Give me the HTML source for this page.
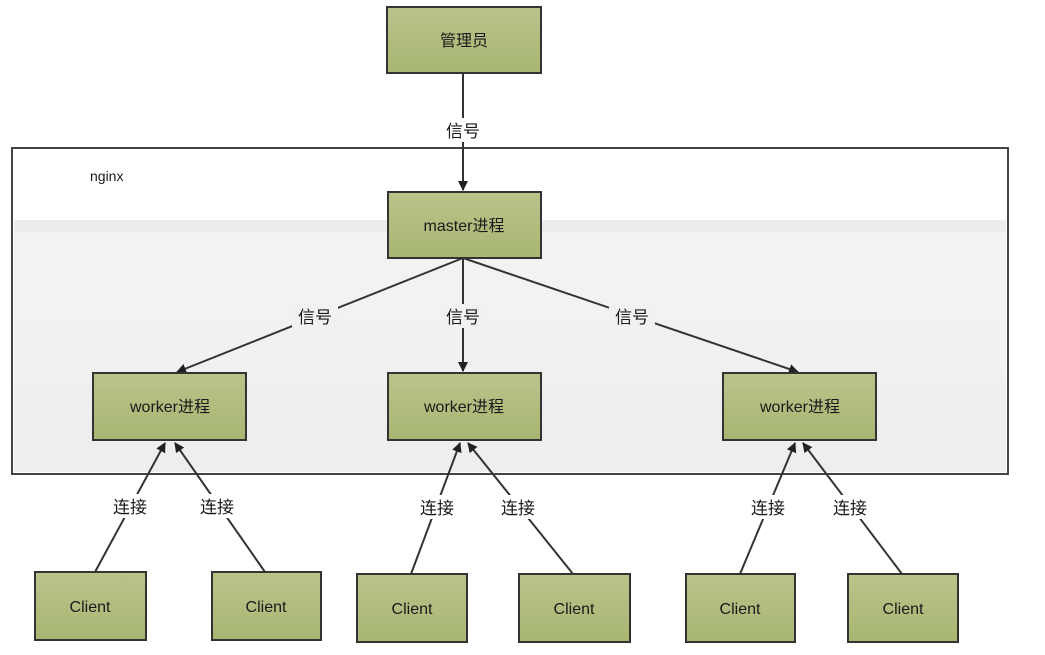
<!DOCTYPE html>
<html><head><meta charset="utf-8"><style>
html,body{margin:0;padding:0;background:#fff;}
svg{display:block;}
text{font-family:"Liberation Sans","Noto Sans CJK SC",sans-serif;fill:#1a1a1a;}
</style></head><body>
<svg width="1045" height="655" viewBox="0 0 1045 655" xmlns="http://www.w3.org/2000/svg">
<defs>
<linearGradient id="g" x1="0" y1="0" x2="0" y2="1">
<stop offset="0" stop-color="#b9c48a"/><stop offset="1" stop-color="#a8b672"/>
</linearGradient>
<linearGradient id="bg" x1="0" y1="0" x2="0" y2="1">
<stop offset="0" stop-color="#f3f3f3"/><stop offset="1" stop-color="#efefef"/>
</linearGradient>
<marker id="a" markerWidth="10" markerHeight="10" refX="9" refY="5" orient="auto" markerUnits="userSpaceOnUse">
<path d="M0,0 L10,5 L0,10 Z" fill="#222"/>
</marker>
</defs>
<rect x="12" y="148" width="996" height="326" fill="#fff" stroke="#444" stroke-width="2"/>
<rect x="14" y="220" width="992" height="252" fill="url(#bg)"/>
<rect x="14" y="220" width="992" height="12" fill="#ececec"/>
<rect x="14" y="385" width="992" height="87" fill="#eeeeee"/>
<text x="90" y="181" font-size="14">nginx</text>

<g stroke="#333" stroke-width="2" fill="none" marker-end="url(#a)">
<line x1="463" y1="73" x2="463" y2="190"/>
<line x1="463" y1="258" x2="177" y2="372"/>
<line x1="463" y1="258" x2="463" y2="371"/>
<line x1="463" y1="258" x2="798" y2="372"/>
<line x1="95" y1="572" x2="165" y2="443"/>
<line x1="265" y1="572" x2="175" y2="443"/>
<line x1="411" y1="574" x2="460" y2="443"/>
<line x1="573" y1="574" x2="468" y2="443"/>
<line x1="740" y1="574" x2="795" y2="443"/>
<line x1="902" y1="574" x2="803" y2="443"/>
</g>
<g font-size="17" text-anchor="middle">
<rect x="440" y="118" width="46" height="24" fill="#fff"/>
<text x="463" y="137">信号</text>
<rect x="292" y="304" width="46" height="24" fill="#f1f1f1"/>
<text x="315" y="323">信号</text>
<rect x="440" y="304" width="46" height="24" fill="#f1f1f1"/>
<text x="463" y="323">信号</text>
<rect x="609" y="304" width="46" height="24" fill="#f1f1f1"/>
<text x="632" y="323">信号</text>
<rect x="107" y="494" width="46" height="24" fill="#fff"/><text x="130" y="513">连接</text>
<rect x="194" y="494" width="46" height="24" fill="#fff"/><text x="217" y="513">连接</text>
<rect x="414" y="495" width="46" height="24" fill="#fff"/><text x="437" y="514">连接</text>
<rect x="495" y="495" width="46" height="24" fill="#fff"/><text x="518" y="514">连接</text>
<rect x="745" y="495" width="46" height="24" fill="#fff"/><text x="768" y="514">连接</text>
<rect x="827" y="495" width="46" height="24" fill="#fff"/><text x="850" y="514">连接</text>
</g>
<g fill="url(#g)" stroke="#333" stroke-width="2">
<rect x="387" y="7" width="154" height="66"/>
<rect x="388" y="192" width="153" height="66"/>
<rect x="93" y="373" width="153" height="67"/>
<rect x="388" y="373" width="153" height="67"/>
<rect x="723" y="373" width="153" height="67"/>
<rect x="35" y="572" width="111" height="68"/>
<rect x="212" y="572" width="109" height="68"/>
<rect x="357" y="574" width="110" height="68"/>
<rect x="519" y="574" width="111" height="68"/>
<rect x="686" y="574" width="109" height="68"/>
<rect x="848" y="574" width="110" height="68"/>
</g>
<g font-size="16" text-anchor="middle">
<text x="464" y="46">管理员</text>
<text x="464" y="231">master进程</text>
<text x="170" y="412">worker进程</text>
<text x="464" y="412">worker进程</text>
<text x="800" y="412">worker进程</text>
<text x="90" y="612">Client</text>
<text x="266" y="612">Client</text>
<text x="412" y="614">Client</text>
<text x="574" y="614">Client</text>
<text x="740" y="614">Client</text>
<text x="903" y="614">Client</text>
</g>
</svg>
</body></html>
